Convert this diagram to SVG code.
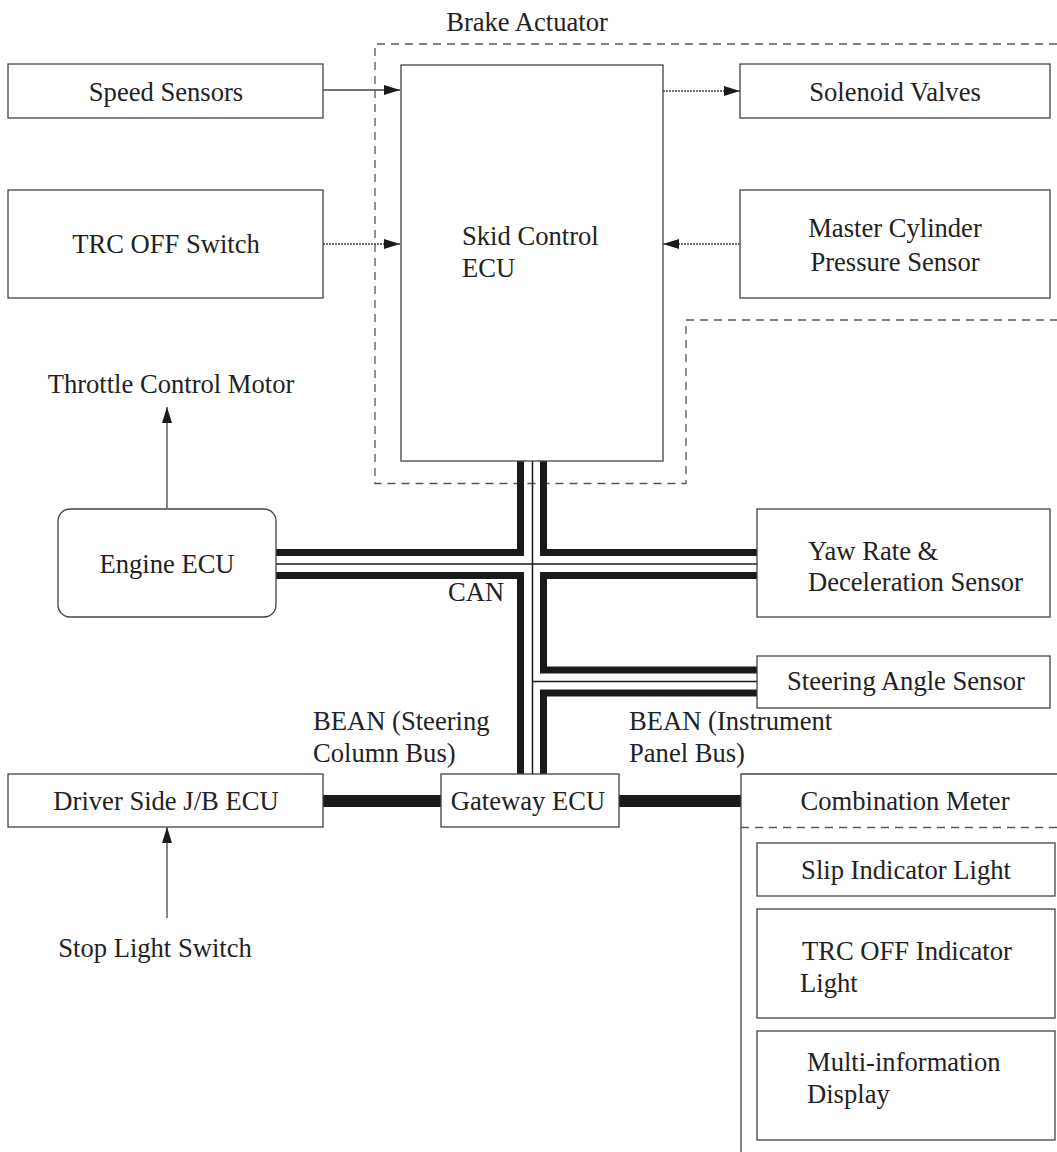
<svg xmlns="http://www.w3.org/2000/svg" width="1057" height="1152" viewBox="0 0 1057 1152">
<style>
text{font-family:"Liberation Serif","Times New Roman",serif;font-size:26.6px;fill:#222}
.box{fill:#fff;stroke:#444;stroke-width:1.3}
.dash{fill:none;stroke:#555;stroke-width:1.3;stroke-dasharray:8,6}
.ln{fill:none;stroke:#444;stroke-width:1.3}
.dot{fill:none;stroke:#444;stroke-width:1.3;stroke-dasharray:2,1}
.bus{fill:none;stroke:#1a1a1a;stroke-width:7;stroke-linejoin:miter;stroke-linecap:butt}
.thin{fill:none;stroke:#1a1a1a;stroke-width:1.5}
.mid{text-anchor:middle}
</style>
<defs>
<marker id="ah" viewBox="0 0 16 10" refX="16" refY="5" markerWidth="16" markerHeight="10" markerUnits="userSpaceOnUse" orient="auto">
<path d="M0,0 L16,5 L0,10 Z" fill="#1a1a1a"/>
</marker>
</defs>
<rect width="1057" height="1152" fill="#fff"/>

<g id="brake-actuator">
<path class="dash" d="M1057,44 H375 V483.5 H686 V320 H1057"/>
<text x="527" y="31" class="mid">Brake Actuator</text>
</g>

<g id="connectors">
<line class="ln" x1="323" y1="90" x2="400" y2="90" marker-end="url(#ah)"/>
<line class="dot" x1="663" y1="91" x2="740" y2="91" marker-end="url(#ah)"/>
<line class="dot" x1="323" y1="244" x2="400" y2="244" marker-end="url(#ah)"/>
<line class="dot" x1="740" y1="244" x2="663" y2="244" marker-end="url(#ah)"/>
<line class="ln" x1="167" y1="508" x2="167" y2="407" marker-end="url(#ah)"/>
<line class="ln" x1="167" y1="918" x2="167" y2="827" marker-end="url(#ah)"/>
<path class="bus" d="M276,552.5 H520.5 V461"/>
<path class="bus" d="M543.5,461 V552.5 H757"/>
<path class="bus" d="M276,575.5 H520.5 V774"/>
<path class="bus" d="M757,575.5 H543.5 V670 H757"/>
<path class="bus" d="M757,693 H543.5 V774"/>
<line class="thin" x1="532.5" y1="461" x2="532.5" y2="774"/>
<line class="thin" x1="276" y1="564" x2="757" y2="564"/>
<line class="thin" x1="532.5" y1="681.5" x2="757" y2="681.5"/>
<line x1="323" y1="801" x2="441" y2="801" stroke="#1a1a1a" stroke-width="12"/>
<line x1="619" y1="801" x2="741" y2="801" stroke="#1a1a1a" stroke-width="12"/>
<text x="448" y="601">CAN</text>
<text x="313" y="730">BEAN (Steering</text>
<text x="313" y="762">Column Bus)</text>
<text x="629" y="730">BEAN (Instrument</text>
<text x="629" y="762">Panel Bus)</text>
</g>

<g id="speed-sensors">
<rect class="box" x="8" y="64" width="315" height="54"/>
<text x="166" y="101" class="mid">Speed Sensors</text>
</g>
<g id="skid-control-ecu">
<rect class="box" x="401" y="65" width="262" height="396"/>
<text x="462" y="245">Skid Control</text>
<text x="462" y="277">ECU</text>
</g>
<g id="solenoid-valves">
<rect class="box" x="740" y="64" width="310" height="54"/>
<text x="895" y="101" class="mid">Solenoid Valves</text>
</g>
<g id="trc-off-switch">
<rect class="box" x="8" y="190" width="315" height="108"/>
<text x="166" y="253" class="mid">TRC OFF Switch</text>
</g>
<g id="master-cylinder">
<rect class="box" x="740" y="190" width="310" height="108"/>
<text x="895" y="237" class="mid">Master Cylinder</text>
<text x="895" y="271" class="mid">Pressure Sensor</text>
</g>
<g id="throttle-control-motor">
<text x="171" y="393" class="mid">Throttle Control Motor</text>
</g>
<g id="engine-ecu">
<rect class="box" x="58" y="509" width="218" height="108" rx="12"/>
<text x="167" y="573" class="mid">Engine ECU</text>
</g>
<g id="yaw-rate-sensor">
<rect class="box" x="757" y="509" width="293" height="108"/>
<text x="808" y="560">Yaw Rate &amp;</text>
<text x="808" y="591">Deceleration Sensor</text>
</g>
<g id="steering-angle-sensor">
<rect class="box" x="757" y="656" width="293" height="52"/>
<text x="906" y="690" class="mid">Steering Angle Sensor</text>
</g>
<g id="driver-side-jb-ecu">
<rect class="box" x="8" y="774" width="315" height="53"/>
<text x="166" y="810" class="mid">Driver Side J/B ECU</text>
</g>
<g id="gateway-ecu">
<rect class="box" x="441" y="774" width="178" height="53"/>
<text x="528" y="810" class="mid">Gateway ECU</text>
</g>
<g id="stop-light-switch">
<text x="155" y="957" class="mid">Stop Light Switch</text>
</g>
<g id="combination-meter">
<path class="ln" d="M741,1152 V774 H1057"/>
<line class="dash" x1="741" y1="827.5" x2="1057" y2="827.5"/>
<text x="905" y="810" class="mid">Combination Meter</text>
</g>
<g id="slip-indicator-light">
<rect class="box" x="757" y="843" width="298" height="53"/>
<text x="906" y="879" class="mid">Slip Indicator Light</text>
</g>
<g id="trc-off-indicator-light">
<rect class="box" x="757" y="909" width="298" height="109"/>
<text x="802" y="960">TRC OFF Indicator</text>
<text x="800" y="992">Light</text>
</g>
<g id="multi-information-display">
<rect class="box" x="757" y="1031" width="298" height="109"/>
<text x="807" y="1071">Multi-information</text>
<text x="807" y="1103">Display</text>
</g>
</svg>
